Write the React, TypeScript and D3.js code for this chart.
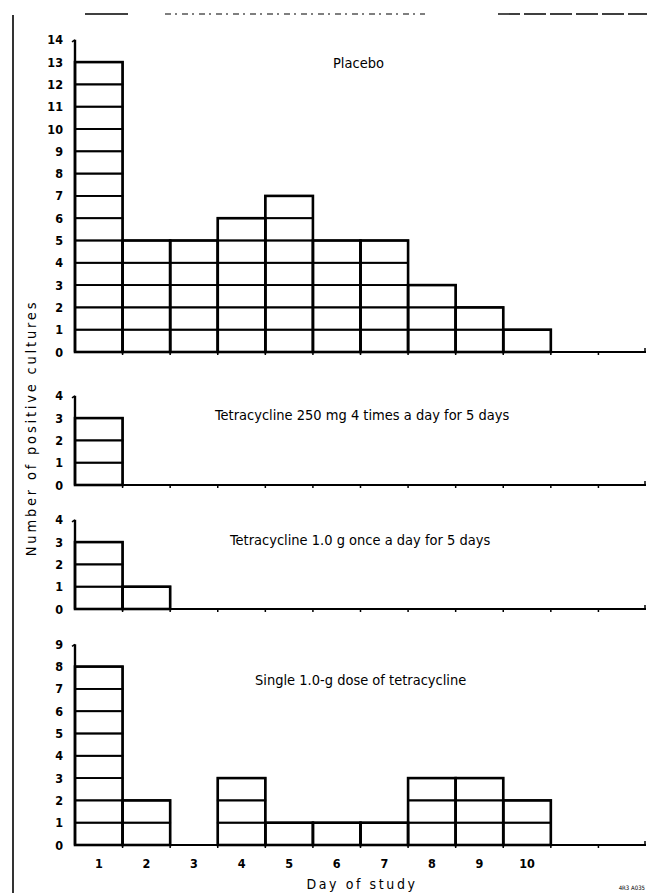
import React from "react";
import * as d3 from "d3";

// positive cultures per day, one list per treatment group
const days = [1, 2, 3, 4, 5, 6, 7, 8, 9, 10];
const placebo = [13, 5, 5, 6, 7, 5, 5, 3, 2, 1];
const tetra250 = [3, 0, 0, 0, 0, 0, 0, 0, 0, 0];
const tetra1g = [3, 1, 0, 0, 0, 0, 0, 0, 0, 0];
const singleDose = [8, 2, 0, 3, 1, 1, 1, 3, 3, 2];

const panelTitles = [
  "Placebo",
  "Tetracycline 250 mg  4 times a day for 5 days",
  "Tetracycline 1.0 g  once a day for 5 days",
  "Single 1.0-g dose of tetracycline",
];
const panelMax = [14, 4, 4, 9];

const W = 647;
const H = 893;
const FONT = "'DejaVu Sans Condensed', 'Liberation Sans Narrow', sans-serif";

// layout of the four stacked panels (baseline pixel, title position)
const panels = [
  { values: placebo, base: 352, titleX: 333, titleY: 68 },
  { values: tetra250, base: 485, titleX: 215, titleY: 420 },
  { values: tetra1g, base: 609, titleX: 230, titleY: 545 },
  { values: singleDose, base: 845, titleX: 255, titleY: 685 },
];
const unit = 22.3;

const x = d3.scaleLinear().domain([0, 12]).range([75, 646]);

function Panel({ idx }: { idx: number }) {
  const p = panels[idx];
  const max = panelMax[idx];
  const y = d3.scaleLinear().domain([0, max]).range([p.base, p.base - max * unit]);
  const ticks = d3.range(0, max + 1);
  const axisTicks = d3.range(1, 12);

  return (
    <g>
      {/* bars as stacks of unit cells */}
      {days.map((d, i) =>
        d3.range(p.values[i]).map((k) => (
          <rect
            key={`${d}-${k}`}
            x={x(d - 1)}
            y={y(k + 1)}
            width={x(d) - x(d - 1)}
            height={y(k) - y(k + 1)}
            fill="none"
            stroke="#000"
            strokeWidth={1.8}
          />
        ))
      )}
      {days.map((d, i) =>
        p.values[i] > 0 ? (
          <rect
            key={`o-${d}`}
            x={x(d - 1)}
            y={y(p.values[i])}
            width={x(d) - x(d - 1)}
            height={y(0) - y(p.values[i])}
            fill="none"
            stroke="#000"
            strokeWidth={2.6}
          />
        ) : null
      )}
      {/* x axis */}
      <line x1={x(0)} x2={x(12)} y1={y(0)} y2={y(0)} stroke="#000" strokeWidth={2} />
      {axisTicks.map((t) => (
        <line key={t} x1={x(t)} x2={x(t)} y1={y(0)} y2={y(0) + 3} stroke="#000" strokeWidth={1.5} />
      ))}
      <line x1={x(12) - 1} x2={x(12) - 1} y1={y(0)} y2={y(0) - 4} stroke="#000" strokeWidth={1.5} />
      {/* y axis */}
      <line x1={x(0)} x2={x(0)} y1={y(0)} y2={y(max)} stroke="#000" strokeWidth={2.4} />
      <line x1={x(0)} x2={x(0) - 3} y1={y(max)} y2={y(max) + 2} stroke="#000" strokeWidth={1.5} />
      {ticks.map((t) => (
        <text
          key={t}
          x={63}
          y={y(t)}
          textAnchor="end"
          dominantBaseline="central"
          fontSize={12.5}
          fontWeight="bold"
          fontFamily={FONT}
        >
          {t}
        </text>
      ))}
      <text x={p.titleX} y={p.titleY} fontSize={14.5} fontFamily={FONT}>
        {panelTitles[idx]}
      </text>
    </g>
  );
}

export default function App() {
  return (
    <svg
      width={W}
      height={H}
      style={{ position: "absolute", left: 0, top: 0, background: "#fff" }}
    >
      <rect width={W} height={H} fill="#fff" />
      {/* page edge and torn rule at the top */}
      <line x1={13} x2={13} y1={15} y2={H} stroke="#000" strokeWidth={1.6} />
      <line x1={85} x2={128} y1={14} y2={14} stroke="#000" strokeWidth={1.4} />
      <line x1={165} x2={425} y1={14} y2={14} stroke="#000" strokeWidth={1.2} strokeDasharray="6 4 2 5" />
      <line x1={498} x2={647} y1={14} y2={14} stroke="#000" strokeWidth={1.4} strokeDasharray="22 4" />
      {panels.map((_, i) => (
        <Panel key={i} idx={i} />
      ))}
      {days.map((d) => (
        <text
          key={d}
          x={x(d - 0.5)}
          y={863}
          textAnchor="middle"
          dominantBaseline="central"
          fontSize={12.5}
          fontWeight="bold"
          fontFamily={FONT}
        >
          {d}
        </text>
      ))}
      <text x={362} y={889} textAnchor="middle" fontSize={14} letterSpacing={2.6} fontFamily={FONT}>
        Day of study
      </text>
      <text
        transform="translate(36,428) rotate(-90)"
        textAnchor="middle"
        fontSize={14.5}
        letterSpacing={2.8}
        fontFamily={FONT}
      >
        Number of positive cultures
      </text>
      <text x={645} y={890} textAnchor="end" fontSize={6} fontFamily={FONT}>
        4R3 A035
      </text>
    </svg>
  );
}
